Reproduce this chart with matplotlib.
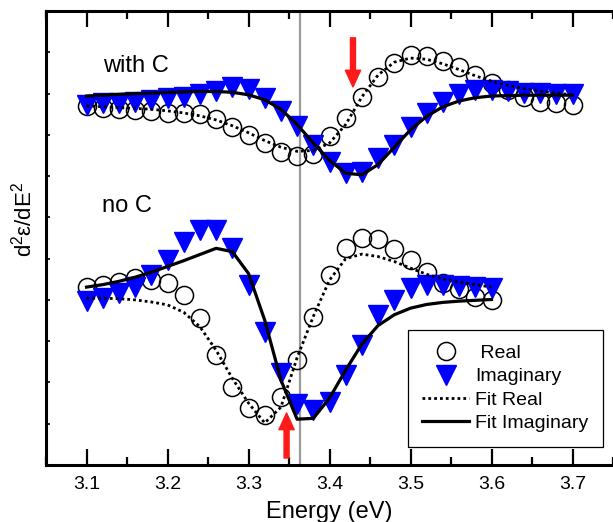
import numpy as np
import matplotlib
matplotlib.use("Agg")
import matplotlib.pyplot as plt

plt.rcParams['font.family'] = ['Liberation Sans', 'DejaVu Sans']
plt.rcParams['mathtext.fontset'] = 'custom'
plt.rcParams['mathtext.rm'] = 'Liberation Sans'

# energy grids (eV)
energy_c = [3.10, 3.12, 3.14, 3.16, 3.18, 3.20, 3.22, 3.24, 3.26, 3.28, 3.30,
            3.32, 3.34, 3.36, 3.38, 3.40, 3.42, 3.44, 3.46, 3.48, 3.50, 3.52,
            3.54, 3.56, 3.58, 3.60, 3.62, 3.64, 3.66, 3.68, 3.70]
energy_noc = energy_c[:26]

# "with C" (offset curves, upper)
real_c = [8.70, 8.66, 8.62, 8.60, 8.58, 8.54, 8.54, 8.50, 8.38, 8.20, 8.00,
          7.80, 7.59, 7.49, 7.54, 7.96, 8.40, 8.92, 9.41, 9.73, 9.93, 9.91,
          9.80, 9.64, 9.45, 9.26, 9.09, 8.92, 8.80, 8.78, 8.72]
imag_c = [8.72, 8.76, 8.77, 8.80, 8.84, 8.88, 8.92, 8.98, 9.05, 9.16, 9.10,
          8.90, 8.58, 8.21, 7.75, 7.35, 7.07, 7.10, 7.43, 7.75, 8.20, 8.52,
          8.80, 9.00, 9.08, 9.08, 9.05, 9.02, 9.01, 9.00, 9.00]
fit_real_c = [8.70, 8.68, 8.66, 8.64, 8.62, 8.58, 8.53, 8.46, 8.36, 8.22, 8.05,
              7.86, 7.70, 7.60, 7.62, 7.80, 8.25, 8.92, 9.45, 9.76, 9.86, 9.83,
              9.72, 9.58, 9.43, 9.30, 9.20, 9.12, 9.06, 9.01, 8.97]
fit_imag_c = [8.94, 8.96, 8.98, 9.00, 9.01, 9.03, 9.04, 9.05, 9.05, 9.03, 8.97,
              8.85, 8.62, 8.25, 7.80, 7.38, 7.07, 7.03, 7.28, 7.70, 8.12, 8.45,
              8.68, 8.82, 8.90, 8.94, 8.95, 8.96, 8.96, 8.96, 8.96]

# "no C" (lower)
real_noc = [4.31, 4.36, 4.44, 4.52, 4.48, 4.42, 4.12, 3.55, 2.67, 1.90, 1.37,
            1.21, 1.65, 2.54, 3.59, 4.60, 5.25, 5.49, 5.47, 5.23, 4.97, 4.68,
            4.40, 4.26, 4.08, 4.00]
imag_noc = [3.97, 4.04, 4.16, 4.31, 4.60, 4.97, 5.41, 5.69, 5.69, 5.25, 4.36,
            3.23, 2.22, 1.47, 1.33, 1.53, 2.18, 2.91, 3.63, 4.00, 4.28, 4.36,
            4.36, 4.34, 4.31, 4.28]
fit_real_noc = [4.04, 4.04, 4.03, 4.00, 3.95, 3.88, 3.70, 3.35, 2.78, 2.10, 1.50,
                1.02, 1.40, 2.60, 3.60, 4.48, 5.00, 5.11, 5.05, 4.93, 4.77, 4.62,
                4.51, 4.43, 4.37, 4.31]
fit_imag_noc = [4.31, 4.37, 4.45, 4.55, 4.67, 4.81, 4.95, 5.10, 5.25, 5.17, 4.64,
                3.51, 2.06, 1.11, 1.13, 1.62, 2.30, 2.93, 3.38, 3.64, 3.80, 3.89,
                3.94, 3.97, 3.99, 4.01]

gap_energy = 3.364
arrow_c = (3.429, 10.35, 9.16)     # x, tail y, tip y
arrow_noc = (3.347, 0.17, 1.26)

fig = plt.figure(figsize=(6.13, 5.22), dpi=100)
ax = fig.add_axes([46 / 613, 57 / 522, 567 / 613, 454 / 522])

circ = dict(marker='o', ms=13, mfc='none', mec='black', mew=1.1, ls='none')
tri = dict(marker='v', ms=14, color='blue', ls='none')
dot = dict(color='black', lw=2, ls=(0, (1, 1.1)))
sol = dict(color='black', lw=2.3)

ax.plot(energy_c, real_c, **circ, label=' Real')
ax.plot(energy_c, imag_c, **tri, label='Imaginary')
ax.plot(energy_c, fit_real_c, **dot, label='Fit Real')
ax.plot(energy_c, fit_imag_c, **sol, label='Fit Imaginary')

ax.plot(energy_noc, real_noc, **circ)
ax.plot(energy_noc, imag_noc, **tri)
ax.plot(energy_noc, fit_real_noc, **dot)
ax.plot(energy_noc, fit_imag_noc, **sol)

ax.axvline(gap_energy, color='#9a9a9a', lw=1.6, zorder=0)

for x, y0, y1 in (arrow_c, arrow_noc):
    ax.annotate('', xy=(x, y1), xytext=(x, y0),
                arrowprops=dict(color='#ff1a1a', width=3.6, headwidth=11,
                                headlength=12, shrink=0))

ax.text(3.120, 9.52, 'with C', fontsize=17)
ax.text(3.119, 6.13, 'no C', fontsize=17)

ax.set_xlim(3.05, 3.75)
ax.set_ylim(0, 11)
ax.set_xticks([3.1, 3.2, 3.3, 3.4, 3.5, 3.6, 3.7])
ax.set_xticks(np.arange(3.05, 3.75, 0.1), minor=True)
ax.set_yticks(range(0, 12))
ax.set_yticklabels([])
ax.tick_params(axis='x', which='major', direction='in', length=11.5, width=1.6,
               top=True, labelsize=14, pad=8)
ax.tick_params(axis='x', which='minor', direction='in', length=5.8, width=1.6,
               top=True)
ax.tick_params(axis='y', direction='in', length=3, width=1.2)

for side in ('left', 'bottom', 'top'):
    ax.spines[side].set_linewidth(2.2)
ax.spines['right'].set_visible(False)

ax.set_xlabel('Energy (eV)', fontsize=17, labelpad=6)
ax.set_ylabel(r'd$\mathregular{^2}$ε/dE$\mathregular{^2}$', fontsize=16)
ax.yaxis.set_label_coords(-0.016, 0.54)

leg = ax.legend(loc='lower right', bbox_to_anchor=(0.982, 0.04), fontsize=14,
                numpoints=1, fancybox=False, framealpha=1, edgecolor='black',
                labelspacing=0.3, handlelength=2.4, handletextpad=0.3,
                borderpad=0.75, borderaxespad=0)
leg.get_frame().set_linewidth(0.9)

fig.savefig('out.png', dpi=100)
